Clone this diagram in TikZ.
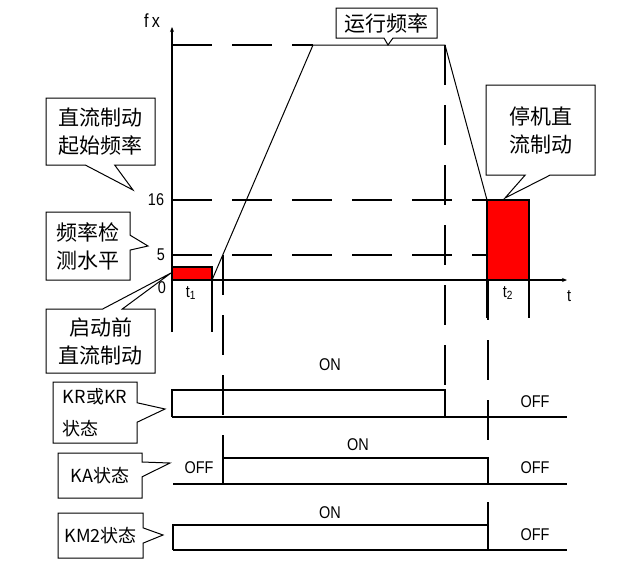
\documentclass[tikz,border=0pt]{standalone}
\usepackage{fontspec}
\newfontfamily\cjk{Noto Sans CJK SC}
\newfontfamily\lbl[FakeStretch=0.85]{Liberation Sans}
\usetikzlibrary{arrows.meta,calc}

\begin{document}
\begin{tikzpicture}[
  x=1pt,y=-1pt,
  line width=1.1pt,
  every node/.style={inner sep=0pt,outer sep=0pt},
  note/.style={font=\cjk\fontsize{21}{28}\selectfont,align=center},
  state/.style={font=\cjk\fontsize{18}{32}\selectfont,align=left},
  tick/.style={font=\lbl\fontsize{17}{17}\selectfont},
  guide/.style={dash pattern=on 40pt off 20pt},
  brake/.style={draw=black,fill=red},
  axis/.style={-{Stealth[length=5pt,width=4pt]}}
]
  \useasboundingbox (0,0) rectangle (639,584);

  % Callout boxes (outlines drawn below).
  \node[note,minimum width=109pt,minimum height=67pt] (brkstart) at (100.5,131.5) {直流制动\\起始频率};
  \node[note,minimum width=84pt,minimum height=68pt] (detect) at (88,246) {频率检\\测水平};
  \node[note,minimum width=109pt,minimum height=64pt] (prebrk) at (100.5,341) {启动前\\直流制动};
  \node[note,minimum width=101pt,minimum height=30pt] (runf) at (386.5,23) {运行频率};
  \node[note,minimum width=109pt,minimum height=90pt] (stopbrk) at (540.5,130) {停机直\\流制动};
  \node[state,minimum width=84pt,minimum height=61pt] (kr) at (95,412.5) {KR或KR\\状态};
  \node[state,minimum width=84pt,minimum height=45pt] (ka) at (100,475.5) {KA状态};
  \node[state,minimum width=85pt,minimum height=45pt] (km) at (100.5,535.5) {KM2状态};

  % Tips of the callout pointers.
  \coordinate (tipStart) at (133,190);
  \coordinate (tipDetect) at (148,246);
  \coordinate (tipPre) at (171,273);
  \coordinate (tipRun) at (388,45);
  \coordinate (tipStop) at (505,198);
  \coordinate (tipKR) at (165,409);
  \coordinate (tipKA) at (170,463);
  \coordinate (tipKM) at (163,535);

  \foreach \b/\p/\q/\t in {detect/0.34/0.56/tipDetect,kr/0.34/0.66/tipKR,ka/0.2/0.53/tipKA,km/0.33/0.67/tipKM} {
    \draw[line width=1pt] (\b.north west) -- (\b.north east) -- ($(\b.north east)!\p!(\b.south east)$)
      -- (\t) -- ($(\b.north east)!\q!(\b.south east)$) -- (\b.south east) -- (\b.south west) -- cycle;
  }
  \foreach \b/\p/\q/\t in {brkstart/0.36/0.63/tipStart,runf/0.475/0.564/tipRun,stopbrk/0.36/0.59/tipStop} {
    \draw[line width=1pt] (\b.south west) -- (\b.north west) -- (\b.north east) -- (\b.south east)
      -- ($(\b.south west)!\q!(\b.south east)$) -- (\t) -- ($(\b.south west)!\p!(\b.south east)$) -- cycle;
  }
  \draw[line width=1pt] (prebrk.north west) -- ($(prebrk.north west)!0.52!(prebrk.north east)$) -- (tipPre)
    -- ($(prebrk.north west)!0.70!(prebrk.north east)$) -- (prebrk.north east) -- (prebrk.south east)
    -- (prebrk.south west) -- cycle;

  % DC braking areas.
  \filldraw[brake] (172,267) rectangle (212,280);
  \filldraw[brake] (487,200) rectangle (529,280);

  % Axes.
  \draw[axis] (172,332) -- (172,27);
  \draw[axis] (172,280) -- (567,280);
  \draw (212,280) -- (212,332);
  \draw (487,280) -- (487,318);
  \draw (529,280) -- (529,318);

  % Frequency curve.
  \draw[line width=1pt] (212,280) -- (313,45) -- (445,45) -- (487,200);

  % Guide lines.
  \draw[guide] (172,45) -- (313,45);
  \draw[guide] (172,200) -- (487,200);
  \draw[guide] (172,255) -- (487,255);
  \draw[guide] (223,255) -- (223,458);
  \draw[guide] (445,45) -- (445,390);
  \draw[guide] (488,280) -- (488,458);

  % Contact states.
  \draw (172,417) -- (172,390) -- (445,390) -- (445,417);
  \draw (172,417) -- (567,417);
  \draw (223,484) -- (223,458) -- (488,458) -- (488,484);
  \draw (173,484) -- (567,484);
  \draw (173,550) -- (173,525) -- (488,525);
  \draw (488,502) -- (488,550);
  \draw (173,550) -- (567,550);

  % Axis and level labels.
  \node[tick,font=\lbl\fontsize{19}{19}\selectfont] (fx) at (152,21) {f\,x};
  \node[tick] (fSixteen) at (156,200) {16};
  \node[tick] (fFive) at (161,255) {5};
  \node[tick] (fZero) at (162,288) {0};
  \node[tick] (tOne) at (191,293) {t\textsubscript{1}};
  \node[tick] (tTwo) at (508,293) {t\textsubscript{2}};
  \node[tick] (tAxis) at (569,296) {t};

  \node[tick] (onKR) at (330,365) {ON};
  \node[tick] (offKR) at (535,402) {OFF};
  \node[tick] (offKAa) at (199,468) {OFF};
  \node[tick] (onKA) at (358,445) {ON};
  \node[tick] (offKAb) at (535,468) {OFF};
  \node[tick] (onKM) at (330,513) {ON};
  \node[tick] (offKM) at (535,535) {OFF};
\end{tikzpicture}
\end{document}
